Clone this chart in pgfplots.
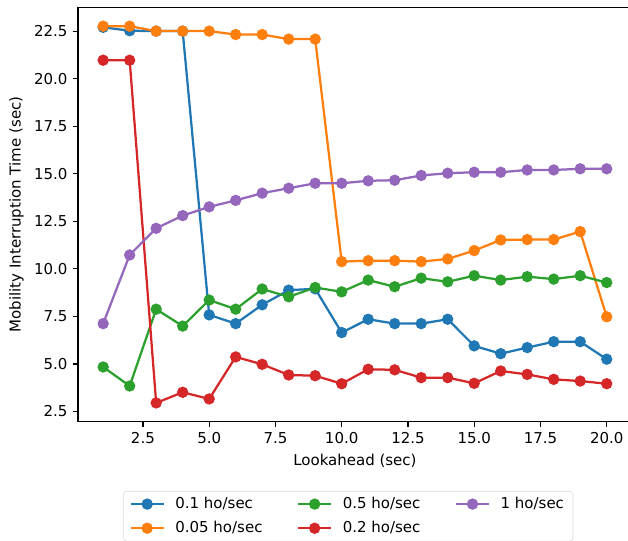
\documentclass[border=0pt]{standalone}
\usepackage{fontspec}
\setmainfont{DejaVu Sans}
\usepackage{pgfplots}
\pgfplotsset{compat=1.18}
\definecolor{c0}{HTML}{1F77B4}
\definecolor{c1}{HTML}{FF7F0E}
\definecolor{c2}{HTML}{2CA02C}
\definecolor{c3}{HTML}{D62728}
\definecolor{c4}{HTML}{9467BD}
\begin{document}
\begin{tikzpicture}
\begin{axis}[
  name=ax,
  scale only axis,
  width=369.3pt, height=276.3pt,
  xmin=0.05, xmax=20.95, ymin=1.96, ymax=23.75,
  xtick={2.5,5,7.5,10,12.5,15,17.5,20},
  ytick={2.5,5,7.5,10,12.5,15,17.5,20,22.5},
  xtick pos=bottom, ytick pos=left,
  tick align=outside,
  major tick length=3.5pt,
  every tick/.style={black, line width=0.8pt},
  axis line style={line width=0.8pt, black},
  /pgf/number format/.cd, fixed, fixed zerofill, precision=1, assume math mode=true,
  /pgfplots/.cd,
  tick label style={font=\fontsize{10}{12}\selectfont},
  xlabel={Lookahead (sec)},
  ylabel={Mobility Interruption Time (sec)},
  label style={font=\fontsize{10}{12}\selectfont},
  every axis plot/.append style={line width=1.5pt, mark=*, mark size=3pt, mark options={solid}},
  legend columns=3,
  legend cell align=left,
  legend image code/.code={\draw[mark repeat=2,mark phase=2] plot coordinates {(0pt,0pt)(11pt,0pt)(22pt,0pt)};},
  legend style={at={(0.488,-0.167)}, anchor=north, draw=black!15, rounded corners=2pt,
    font=\fontsize{10}{12}\selectfont, inner xsep=4pt, inner ysep=2pt,
    row sep=3pt,
    /tikz/every odd column/.append style={column sep=5pt},
    /tikz/every even column/.append style={column sep=21pt}},
]
\addplot[c0, forget plot] coordinates {(1,22.7)(2,22.52)(3,22.5)(4,22.5)(5,7.58)(6,7.12)(7,8.11)(8,8.88)(9,8.95)(10,6.65)(11,7.35)(12,7.12)(13,7.12)(14,7.35)(15,5.95)(16,5.54)(17,5.86)(18,6.17)(19,6.17)(20,5.25)};
\addplot[c1, forget plot] coordinates {(1,22.76)(2,22.76)(3,22.5)(4,22.5)(5,22.5)(6,22.32)(7,22.32)(8,22.08)(9,22.08)(10,10.38)(11,10.43)(12,10.43)(13,10.38)(14,10.52)(15,10.96)(16,11.52)(17,11.54)(18,11.54)(19,11.96)(20,7.48)};
\addplot[c2, forget plot] coordinates {(1,4.84)(2,3.84)(3,7.88)(4,6.99)(5,8.36)(6,7.88)(7,8.94)(8,8.53)(9,9.02)(10,8.79)(11,9.41)(12,9.06)(13,9.51)(14,9.32)(15,9.64)(16,9.41)(17,9.59)(18,9.46)(19,9.64)(20,9.28)};
\addplot[c3, forget plot] coordinates {(1,20.97)(2,20.97)(3,2.95)(4,3.51)(5,3.16)(6,5.37)(7,4.98)(8,4.42)(9,4.38)(10,3.96)(11,4.72)(12,4.69)(13,4.28)(14,4.28)(15,3.98)(16,4.63)(17,4.45)(18,4.19)(19,4.10)(20,3.96)};
\addplot[c4, forget plot] coordinates {(1,7.12)(2,10.73)(3,12.13)(4,12.8)(5,13.26)(6,13.6)(7,13.98)(8,14.24)(9,14.5)(10,14.5)(11,14.63)(12,14.66)(13,14.91)(14,15.03)(15,15.08)(16,15.08)(17,15.2)(18,15.2)(19,15.26)(20,15.26)};
\addlegendimage{c0, line width=1.5pt, mark=*, mark size=3pt}
\addlegendentry{0.1 ho/sec}
\addlegendimage{c2, line width=1.5pt, mark=*, mark size=3pt}
\addlegendentry{0.5 ho/sec}
\addlegendimage{c4, line width=1.5pt, mark=*, mark size=3pt}
\addlegendentry{1 ho/sec}
\addlegendimage{c1, line width=1.5pt, mark=*, mark size=3pt}
\addlegendentry{0.05 ho/sec}
\addlegendimage{c3, line width=1.5pt, mark=*, mark size=3pt}
\addlegendentry{0.2 ho/sec}
\end{axis}
\pgfresetboundingbox
\path[use as bounding box] ([xshift=-52pt,yshift=-79.5pt]ax.south west) rectangle ([xshift=366.7pt,yshift=4.9pt]ax.north west);
\end{tikzpicture}
\end{document}
